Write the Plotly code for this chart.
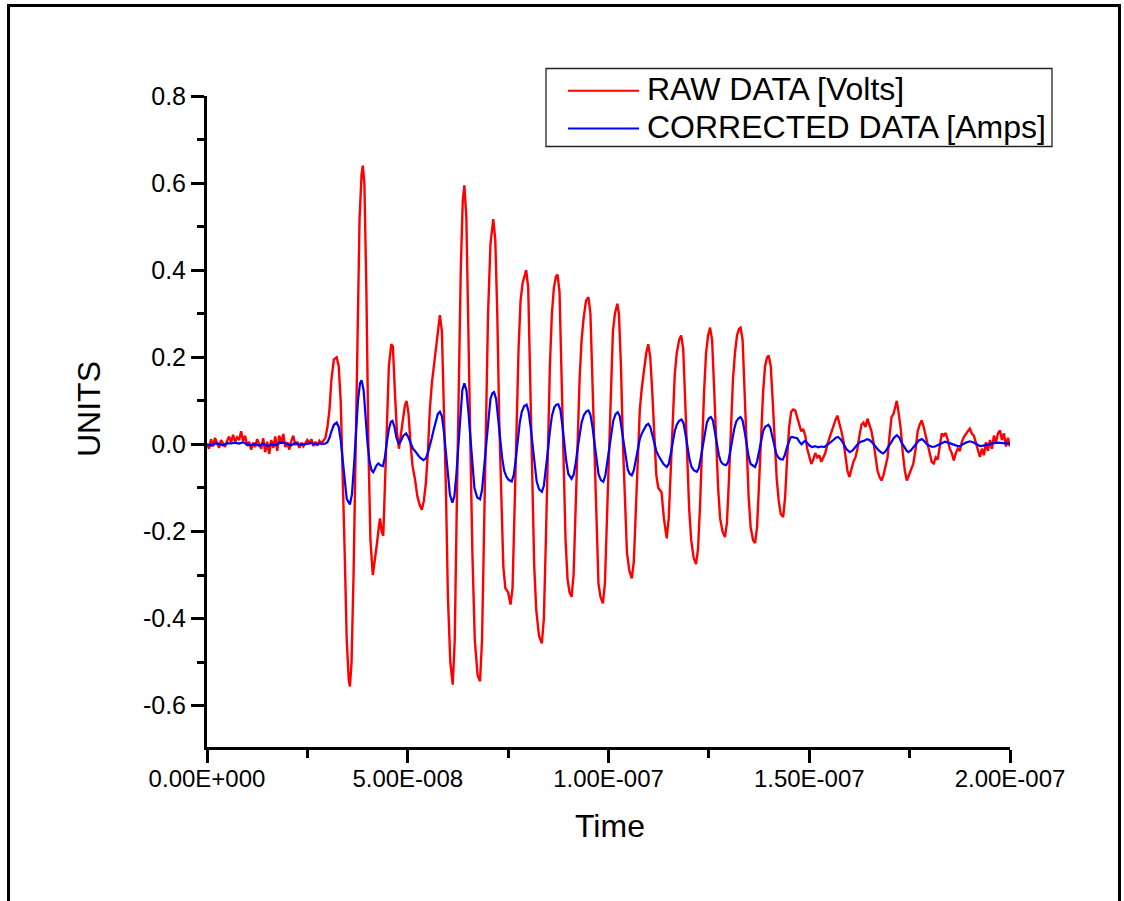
import plotly.graph_objects as go

# ---------------- data ----------------
raw_time_ns = [
    0.0, 0.5, 1.0, 1.5, 2.0, 2.5, 3.0, 3.5, 4.0, 4.5,
    5.0, 5.5, 6.0, 6.5, 7.0, 7.5, 8.0, 8.5, 9.0, 9.5,
    10.0, 10.5, 11.0, 11.5, 12.0, 12.5, 13.0, 13.5, 14.0, 14.5,
    15.0, 15.5, 16.0, 16.5, 17.0, 17.5, 18.0, 18.5, 19.0, 19.5,
    20.0, 20.5, 21.0, 21.5, 22.0, 22.5, 23.0, 23.5, 24.0, 24.5,
    25.0, 25.5, 26.0, 26.5, 27.0, 27.5, 28.0, 28.5, 29.0, 29.5,
    30.0, 30.5, 31.0, 31.6, 32.3, 32.8, 33.3, 33.8, 34.3, 34.8,
    35.3, 35.6, 36.0, 36.5, 37.0, 37.5, 38.0, 38.5, 38.8, 39.2,
    39.7, 40.2, 40.7, 41.3, 41.8, 42.3, 42.8, 43.1, 43.5, 43.9,
    44.3, 44.8, 45.3, 45.9, 46.3, 46.8, 47.3, 47.8, 48.3, 48.8,
    49.3, 49.7, 50.2, 50.7, 51.2, 51.8, 52.4, 53.0, 53.5, 54.0,
    54.5, 55.0, 55.5, 56.0, 56.5, 57.0, 57.5, 58.0, 58.5, 59.0,
    59.5, 60.0, 60.6, 61.2, 61.7, 62.2, 62.7, 63.2, 63.7, 64.1,
    64.6, 65.1, 65.6, 66.1, 66.7, 67.4, 68.0, 68.5, 69.0, 69.5,
    70.0, 70.6, 71.3, 71.8, 72.3, 72.8, 73.3, 73.8, 74.3, 75.0,
    75.6, 76.1, 76.6, 77.1, 77.6, 78.1, 78.6, 79.2, 79.5, 80.0,
    80.5, 81.0, 81.5, 82.0, 82.7, 83.4, 83.9, 84.4, 84.9, 85.4,
    85.9, 86.4, 86.9, 87.3, 87.8, 88.3, 88.8, 89.3, 89.8, 90.3,
    90.8, 91.3, 91.8, 92.3, 92.8, 93.3, 93.8, 94.4, 95.0, 95.5,
    96.0, 96.5, 97.0, 97.5, 98.0, 98.6, 99.1, 99.6, 100.1, 100.6,
    101.1, 101.6, 101.9, 102.2, 102.6, 103.1, 103.6, 104.1, 104.6, 105.2,
    105.8, 106.3, 106.8, 107.3, 107.8, 108.3, 108.8, 109.4, 109.9, 110.4,
    110.9, 111.4, 111.9, 112.4, 113.2, 113.8, 114.5, 115.0, 115.5, 116.0,
    116.5, 117.0, 117.6, 118.1, 118.6, 119.1, 119.6, 120.1, 120.6, 121.2,
    121.8, 122.3, 122.8, 123.3, 123.8, 124.3, 124.8, 125.3, 125.8, 126.3,
    126.8, 127.3, 127.8, 128.4, 129.0, 129.5, 130.0, 130.5, 131.0, 131.5,
    132.0, 132.5, 132.9, 133.4, 133.9, 134.4, 134.9, 135.4, 136.0, 136.5,
    137.0, 137.5, 138.0, 138.5, 139.0, 139.5, 139.9, 140.4, 140.9, 141.4,
    141.9, 142.4, 142.9, 143.5, 144.0, 144.5, 145.0, 145.5, 146.0, 146.5,
    147.0, 147.5, 148.0, 148.5, 149.0, 149.5, 150.0, 150.5, 151.0, 151.5,
    152.0, 152.5, 153.0, 153.5, 154.0, 154.5, 155.0, 155.5, 156.0, 156.5,
    157.0, 157.5, 158.0, 158.5, 159.0, 159.5, 160.0, 160.5, 161.0, 161.5,
    162.0, 162.5, 163.0, 163.5, 164.0, 164.5, 165.0, 165.5, 166.0, 166.5,
    167.0, 167.5, 168.0, 168.5, 169.0, 169.5, 170.0, 170.5, 171.0, 171.5,
    171.8, 172.3, 172.8, 173.3, 173.8, 174.3, 174.8, 175.3, 175.9, 176.5,
    177.0, 177.5, 178.0, 178.5, 179.0, 179.5, 180.0, 180.5, 181.0, 181.5,
    182.0, 182.5, 183.0, 183.5, 184.0, 184.5, 185.0, 185.5, 186.0, 186.5,
    187.0, 187.5, 188.0, 188.5, 189.0, 189.5, 190.0, 190.5, 191.0, 191.5,
    192.0, 192.5, 193.0, 193.5, 194.0, 194.5, 195.0, 195.5, 196.0, 196.5,
    197.0, 197.5, 198.0, 198.5, 199.0, 199.5, 200.0,
]
raw_volts = [
    0.000, -0.010, 0.012, -0.005, 0.015, 0.002, -0.008, 0.010, 0.003, -0.006,
    0.008, 0.018, 0.004, 0.022, 0.006, 0.016, 0.010, 0.030, 0.008, 0.020,
    -0.004, 0.006, -0.012, 0.004, -0.006, 0.012, 0.000, -0.010, 0.014, -0.018,
    0.006, -0.022, 0.010, -0.008, 0.018, -0.015, 0.020, 0.002, 0.024, -0.006,
    0.005, -0.012, 0.008, 0.020, -0.002, 0.006, -0.008, 0.004, -0.004, 0.002,
    0.010, 0.002, 0.012, -0.004, 0.006, -0.003, 0.008, 0.002, 0.010, 0.015,
    0.040, 0.080, 0.150, 0.195, 0.200, 0.180, 0.100, -0.050, -0.250, -0.450,
    -0.540, -0.556, -0.500, -0.300, 0.000, 0.300, 0.520, 0.620, 0.640, 0.600,
    0.350, 0.000, -0.220, -0.300, -0.270, -0.230, -0.190, -0.170, -0.200, -0.210,
    -0.100, 0.060, 0.180, 0.230, 0.225, 0.120, 0.030, -0.010, 0.020, 0.060,
    0.090, 0.100, 0.070, 0.000, -0.050, -0.080, -0.120, -0.140, -0.150, -0.130,
    -0.090, -0.020, 0.080, 0.140, 0.180, 0.220, 0.270, 0.297, 0.260, 0.100,
    -0.100, -0.350, -0.500, -0.552, -0.450, -0.150, 0.150, 0.400, 0.560, 0.595,
    0.520, 0.300, 0.000, -0.250, -0.450, -0.530, -0.544, -0.450, -0.200, 0.080,
    0.300, 0.460, 0.517, 0.470, 0.300, 0.050, -0.150, -0.280, -0.330, -0.340,
    -0.368, -0.330, -0.150, 0.050, 0.220, 0.330, 0.370, 0.390, 0.400, 0.360,
    0.150, -0.100, -0.280, -0.380, -0.440, -0.457, -0.400, -0.220, 0.000, 0.180,
    0.300, 0.360, 0.385, 0.390, 0.350, 0.180, -0.050, -0.220, -0.310, -0.340,
    -0.350, -0.300, -0.150, 0.020, 0.150, 0.240, 0.290, 0.330, 0.338, 0.300,
    0.140, -0.050, -0.220, -0.320, -0.350, -0.365, -0.320, -0.180, 0.000, 0.150,
    0.260, 0.300, 0.310, 0.323, 0.300, 0.180, 0.000, -0.150, -0.250, -0.290,
    -0.308, -0.270, -0.150, -0.020, 0.080, 0.130, 0.170, 0.210, 0.230, 0.200,
    0.120, 0.020, -0.070, -0.100, -0.110, -0.170, -0.216, -0.170, -0.050, 0.070,
    0.160, 0.210, 0.240, 0.250, 0.220, 0.100, -0.040, -0.150, -0.220, -0.260,
    -0.275, -0.240, -0.140, 0.000, 0.120, 0.210, 0.250, 0.268, 0.240, 0.130,
    0.000, -0.100, -0.170, -0.200, -0.213, -0.180, -0.080, 0.050, 0.150, 0.210,
    0.250, 0.265, 0.268, 0.240, 0.120, -0.010, -0.120, -0.190, -0.220, -0.227,
    -0.190, -0.090, 0.030, 0.120, 0.180, 0.200, 0.204, 0.180, 0.100, 0.000,
    -0.080, -0.130, -0.160, -0.167, -0.120, -0.030, 0.040, 0.075, 0.080, 0.078,
    0.060, 0.045, 0.030, 0.035, 0.020, -0.010, -0.030, -0.045, -0.035, -0.020,
    -0.030, -0.025, -0.040, -0.030, -0.020, 0.000, 0.015, 0.030, 0.045, 0.055,
    0.066, 0.050, 0.030, 0.009, -0.030, -0.060, -0.075, -0.055, -0.040, -0.030,
    -0.010, 0.020, 0.045, 0.050, 0.040, 0.059, 0.045, 0.030, 0.005, -0.030,
    -0.060, -0.075, -0.083, -0.070, -0.050, -0.030, 0.020, 0.063, 0.070, 0.090,
    0.100, 0.070, 0.035, -0.020, -0.060, -0.083, -0.070, -0.060, -0.045, -0.010,
    0.030, 0.045, 0.055, 0.040, 0.020, -0.005, -0.020, -0.040, -0.044, -0.030,
    -0.035, 0.000, 0.025, 0.020, 0.026, 0.010, -0.010, -0.020, -0.037, -0.020,
    -0.010, -0.015, 0.005, 0.017, 0.025, 0.030, 0.036, 0.025, 0.020, 0.005,
    -0.010, -0.029, -0.010, -0.025, 0.005, -0.015, 0.010, -0.010, 0.020, 0.005,
    0.025, 0.032, 0.010, 0.025, -0.005, 0.015, -0.005,
]

corr_time_ns = [
    0.0, 1.0, 2.0, 3.0, 4.0, 5.0, 6.0, 7.0, 8.0, 9.0,
    10.0, 11.0, 12.0, 13.0, 14.0, 15.0, 16.0, 17.0, 18.0, 19.0,
    20.0, 21.0, 22.0, 23.0, 24.0, 25.0, 26.0, 27.0, 28.0, 29.0,
    29.5, 30.0, 30.5, 31.0, 31.6, 32.3, 32.8, 33.3, 33.8, 34.3,
    34.8, 35.6, 36.1, 36.6, 37.1, 37.6, 38.1, 38.5, 39.0, 39.5,
    40.0, 40.5, 41.0, 41.4, 41.9, 42.3, 42.7, 43.2, 43.8, 44.3,
    44.8, 45.3, 45.8, 46.2, 46.7, 47.2, 47.8, 48.3, 48.9, 49.6,
    50.2, 50.8, 51.3, 51.8, 52.4, 53.0, 53.9, 54.5, 55.0, 55.5,
    56.0, 56.5, 57.0, 57.5, 58.0, 58.5, 59.0, 59.5, 60.0, 60.5,
    61.1, 61.6, 62.1, 62.6, 63.1, 63.6, 64.1, 64.6, 65.1, 65.6,
    66.1, 66.6, 67.3, 68.0, 68.5, 69.0, 69.5, 70.0, 70.6, 71.1,
    71.5, 72.0, 72.5, 73.0, 73.5, 74.0, 74.6, 75.2, 75.9, 76.4,
    76.9, 77.4, 77.9, 78.4, 79.0, 79.6, 80.1, 80.6, 81.1, 81.6,
    82.1, 82.7, 83.4, 83.9, 84.4, 84.9, 85.4, 85.9, 86.5, 87.0,
    87.5, 88.0, 88.5, 89.0, 89.5, 90.0, 90.8, 91.3, 91.8, 92.3,
    92.8, 93.3, 93.9, 94.5, 95.0, 95.5, 96.0, 96.5, 97.0, 97.5,
    98.1, 98.7, 99.2, 99.7, 100.2, 100.7, 101.2, 101.8, 102.3, 102.8,
    103.3, 103.8, 104.3, 104.8, 105.3, 105.8, 106.3, 106.8, 107.3, 107.8,
    108.3, 108.8, 109.4, 109.9, 110.4, 110.9, 111.4, 111.9, 112.4, 113.0,
    113.7, 114.5, 115.0, 115.5, 116.0, 116.5, 117.0, 117.6, 118.2, 118.7,
    119.2, 119.7, 120.2, 120.7, 121.3, 122.0, 122.5, 123.0, 123.5, 124.0,
    124.5, 125.0, 125.5, 126.0, 126.5, 127.0, 127.5, 128.0, 128.6, 129.3,
    129.8, 130.3, 130.8, 131.3, 131.8, 132.4, 132.9, 133.4, 133.9, 134.4,
    134.9, 135.4, 136.0, 136.5, 137.0, 137.5, 138.0, 138.5, 139.0, 139.5,
    139.8, 140.3, 140.8, 141.3, 141.8, 142.3, 142.8, 143.4, 143.9, 144.4,
    144.9, 145.3, 145.6, 146.2, 147.0, 147.6, 148.1, 148.6, 149.0, 149.6,
    150.2, 150.8, 151.5, 152.2, 153.0, 153.8, 154.5, 155.2, 156.0, 156.6,
    157.2, 157.8, 158.5, 159.2, 160.1, 160.8, 161.5, 162.2, 162.8, 163.6,
    164.4, 165.0, 165.7, 166.5, 167.3, 168.0, 168.4, 169.0, 169.7, 170.4,
    171.1, 171.8, 172.4, 173.0, 173.7, 174.3, 174.7, 175.3, 176.0, 176.7,
    177.3, 178.0, 178.6, 179.3, 180.0, 180.6, 181.3, 182.0, 182.8, 183.8,
    184.6, 185.5, 186.3, 187.0, 187.5, 188.3, 189.0, 190.0, 190.8, 191.6,
    192.5, 193.3, 194.2, 195.0, 196.0, 197.0, 198.0, 199.0, 200.0,
]
corr_amps = [
    0.000, -0.003, 0.002, 0.001, -0.002, 0.003, 0.002, 0.004, 0.002, 0.005,
    0.000, -0.002, 0.001, -0.003, 0.002, -0.004, 0.000, -0.002, 0.003, 0.004,
    0.001, -0.002, 0.003, -0.001, 0.000, 0.002, 0.003, 0.000, 0.002, 0.001,
    0.002, 0.005, 0.015, 0.030, 0.045, 0.050, 0.040, 0.010, -0.040, -0.090,
    -0.125, -0.138, -0.115, -0.050, 0.030, 0.100, 0.140, 0.147, 0.125, 0.060,
    0.000, -0.040, -0.060, -0.064, -0.055, -0.047, -0.044, -0.048, -0.050, -0.030,
    0.005, 0.035, 0.052, 0.054, 0.040, 0.015, 0.001, 0.008, 0.020, 0.025,
    0.015, 0.000, -0.010, -0.015, -0.022, -0.030, -0.036, -0.032, -0.020, -0.005,
    0.015, 0.035, 0.055, 0.070, 0.075, 0.065, 0.030, -0.020, -0.075, -0.115,
    -0.134, -0.120, -0.070, 0.000, 0.075, 0.125, 0.140, 0.125, 0.075, 0.010,
    -0.050, -0.100, -0.122, -0.126, -0.105, -0.055, 0.005, 0.060, 0.105, 0.118,
    0.120, 0.105, 0.065, 0.015, -0.030, -0.060, -0.075, -0.082, -0.085, -0.070,
    -0.035, 0.010, 0.050, 0.075, 0.088, 0.091, 0.075, 0.040, -0.005, -0.050,
    -0.085, -0.103, -0.109, -0.095, -0.060, -0.015, 0.030, 0.065, 0.085, 0.091,
    0.092, 0.080, 0.045, 0.000, -0.040, -0.068, -0.079, -0.070, -0.045, -0.010,
    0.025, 0.050, 0.068, 0.076, 0.078, 0.068, 0.040, 0.000, -0.040, -0.068,
    -0.082, -0.086, -0.072, -0.040, -0.005, 0.030, 0.055, 0.070, 0.074, 0.065,
    0.035, 0.000, -0.035, -0.058, -0.068, -0.071, -0.060, -0.035, -0.010, 0.012,
    0.025, 0.035, 0.044, 0.047, 0.040, 0.022, 0.002, -0.015, -0.025, -0.035,
    -0.045, -0.052, -0.045, -0.022, 0.005, 0.030, 0.045, 0.054, 0.057, 0.048,
    0.022, -0.008, -0.035, -0.052, -0.060, -0.063, -0.055, -0.030, 0.000, 0.030,
    0.050, 0.060, 0.063, 0.055, 0.030, 0.000, -0.025, -0.040, -0.046, -0.048,
    -0.040, -0.018, 0.010, 0.035, 0.052, 0.060, 0.063, 0.055, 0.030, 0.000,
    -0.028, -0.045, -0.050, -0.052, -0.040, -0.015, 0.012, 0.030, 0.040, 0.044,
    0.045, 0.038, 0.018, -0.005, -0.022, -0.030, -0.034, -0.035, -0.025, -0.008,
    0.008, 0.015, 0.017, 0.016, 0.014, 0.005, 0.000, 0.006, 0.008, 0.002,
    -0.004, -0.006, -0.004, -0.007, -0.005, -0.006, -0.002, 0.004, 0.010, 0.015,
    0.017, 0.012, 0.002, -0.010, -0.018, -0.014, -0.006, 0.002, 0.006, 0.008,
    0.012, 0.010, 0.004, -0.006, -0.014, -0.019, -0.021, -0.016, -0.006, 0.006,
    0.015, 0.021, 0.016, 0.004, -0.008, -0.015, -0.018, -0.014, -0.006, 0.003,
    0.009, 0.012, 0.008, 0.000, -0.004, -0.006, -0.005, -0.002, 0.003, 0.006,
    0.004, 0.001, -0.003, -0.004, -0.004, 0.001, 0.004, 0.007, 0.005, 0.001,
    -0.004, -0.003, -0.001, 0.002, 0.003, 0.004, 0.003, 0.002, 0.001,
]

series_names = ["RAW DATA [Volts]", "CORRECTED DATA [Amps]"]
x_tick_values = [0.0, 5e-8, 1e-7, 1.5e-7, 2e-7]
x_tick_labels = ["0.00E+000", "5.00E-008", "1.00E-007", "1.50E-007", "2.00E-007"]
x_minor_values = [2.5e-8, 7.5e-8, 1.25e-7, 1.75e-7]
y_tick_values = [-0.6, -0.4, -0.2, 0.0, 0.2, 0.4, 0.6, 0.8]
y_tick_labels = ["-0.6", "-0.4", "-0.2", "0.0", "0.2", "0.4", "0.6", "0.8"]
y_minor_values = [-0.5, -0.3, -0.1, 0.1, 0.3, 0.5, 0.7]

assert len(raw_time_ns) == len(raw_volts)
assert len(corr_time_ns) == len(corr_amps)

# ---------------- layout helpers (pixel -> paper) ----------------
W, H = 1124, 901
PL, PR, PT, PB = 207, 1010, 96, 747  # plot area in pixels


def px(xs):
    return (xs - PL) / (PR - PL)


def py(ys):
    return (PB - ys) / (PB - PT)


SANS = "Liberation Sans, Arial, sans-serif"

fig = go.Figure()
fig.add_trace(go.Scatter(
    x=[t * 1e-9 for t in raw_time_ns], y=raw_volts, mode="lines",
    name=series_names[0], line=dict(color="#ff0000", width=2.4), showlegend=False,
))
fig.add_trace(go.Scatter(
    x=[t * 1e-9 for t in corr_time_ns], y=corr_amps, mode="lines",
    name=series_names[1], line=dict(color="#0000ff", width=2.2), showlegend=False,
))

shapes = [
    # outer frame
    dict(type="rect", xref="paper", yref="paper", x0=px(8.5), x1=px(1119.5),
         y0=py(915), y1=py(5.5), line=dict(color="black", width=3), layer="above"),
    # legend box
    dict(type="rect", xref="paper", yref="paper", x0=px(546), x1=px(1052),
         y0=py(146.5), y1=py(68.5), line=dict(color="#222", width=1.3),
         fillcolor="white", layer="above"),
    dict(type="line", xref="paper", yref="paper", x0=px(568), x1=px(639),
         y0=py(90.7), y1=py(90.7), line=dict(color="#ff0000", width=2), layer="above"),
    dict(type="line", xref="paper", yref="paper", x0=px(568), x1=px(639),
         y0=py(128.5), y1=py(128.5), line=dict(color="#0000ff", width=2), layer="above"),
]

annotations = [
    dict(text=series_names[0], xref="paper", yref="paper", x=px(645), y=py(89),
         xanchor="left", yanchor="middle", showarrow=False,
         font=dict(family=SANS, size=32, color="black")),
    dict(text=series_names[1], xref="paper", yref="paper", x=px(645), y=py(127),
         xanchor="left", yanchor="middle", showarrow=False,
         font=dict(family=SANS, size=32, color="black")),
    dict(text="UNITS", xref="paper", yref="paper", x=px(89), y=py(409),
         xanchor="center", yanchor="middle", textangle=-90, showarrow=False,
         font=dict(family=SANS, size=32, color="black")),
    dict(text="Time", xref="paper", yref="paper", x=px(610), y=py(826),
         xanchor="center", yanchor="middle", showarrow=False,
         font=dict(family=SANS, size=32, color="black")),
]

fig.update_layout(
    width=W, height=H,
    margin=dict(l=PL, r=W - PR, t=PT, b=H - PB, pad=0),
    paper_bgcolor="white", plot_bgcolor="white",
    showlegend=False,
    shapes=shapes, annotations=annotations,
    xaxis=dict(
        range=[0, 2e-7], showgrid=False, zeroline=False,
        showline=True, linecolor="black", linewidth=3,
        ticks="outside", ticklen=13, tickwidth=2.5, tickcolor="black",
        tickmode="array", tickvals=x_tick_values, ticktext=x_tick_labels,
        tickfont=dict(family=SANS, size=24, color="black"),
        ticklabelstandoff=-5,
        minor=dict(tickmode="array", tickvals=x_minor_values, ticks="outside",
                   ticklen=8, tickwidth=2.5, tickcolor="black", showgrid=False),
    ),
    yaxis=dict(
        range=[-0.695, 0.8], showgrid=False, zeroline=False,
        showline=True, linecolor="black", linewidth=3,
        ticks="outside", ticklen=13, tickwidth=2.5, tickcolor="black",
        tickmode="array", tickvals=y_tick_values, ticktext=y_tick_labels,
        tickfont=dict(family=SANS, size=25, color="black"),
        minor=dict(tickmode="array", tickvals=y_minor_values, ticks="outside",
                   ticklen=7, tickwidth=2.5, tickcolor="black", showgrid=False),
    ),
)

fig.write_html(
    "out.html",
    config={"displayModeBar": False},
    post_script="document.body.style.margin='0px';document.body.style.overflow='hidden';",
)
